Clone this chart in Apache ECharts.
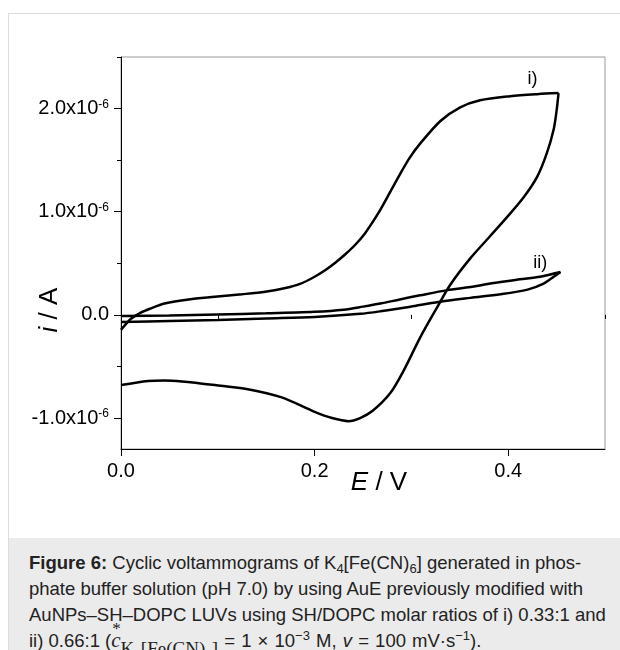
<!DOCTYPE html>
<html>
<head>
<meta charset="utf-8">
<script src="https://cdn.jsdelivr.net/npm/echarts@6/dist/echarts.min.js"></script>
<style>
  html, body { margin:0; padding:0; background:#fff; }
  #wrap { position:relative; width:620px; height:650px; overflow:hidden; }
  #frame { position:absolute; left:8px; top:13px; width:700px; height:700px; border:1px solid #dcdcdc; box-sizing:border-box; }
  #chart { position:absolute; left:0; top:0; width:620px; height:650px; }
  #cap { position:absolute; left:9px; top:538px; width:620px; height:112px; background:#ebebeb;
         font-family:'Liberation Sans', Arial, sans-serif; font-size:18.5px; line-height:26px; color:#222;
         padding:12px 0 0 20px; box-sizing:border-box; white-space:nowrap; }
  #cap sub, #cap sup { font-size:13px; line-height:0; vertical-align:baseline; position:relative; }
  #cap sub { top:4px; }
  #cap sup { top:-7px; }
  .serif { font-family:'Liberation Serif', 'Times New Roman', serif; }
</style>
</head>
<body>
<div id="wrap">
  <div id="frame"></div>
  <div id="chart"></div>
  <div id="cap"><b>Figure 6:</b> Cyclic voltammograms of K<sub>4</sub>[Fe(CN)<sub>6</sub>] generated in phos-<br>phate buffer solution (pH 7.0) by using AuE previously modified with<br>AuNPs–SH–DOPC LUVs using SH/DOPC molar ratios of i) 0.33:1 and<br>ii) 0.66:1 (<span class="serif" style="position:relative;line-height:0;"><i style="font-size:21px;line-height:0;">c</i><span style="position:absolute;left:1px;top:-12px;font-size:17px;line-height:normal;">*</span><span style="position:relative;top:8px;font-size:19px;line-height:0;">K<sub>4</sub>[Fe(CN)<sub>6</sub>]</span></span><span style="word-spacing:1px;"> = 1 × 10<sup>−3</sup> M, <i>v</i> = 100 mV·s<sup>−1</sup>).</span></div>
</div>
<script>
// ---- data (E in V, current in units of 1e-6 A) ----
const curveI_fwd_E = [0.000, 0.005, 0.010, 0.020, 0.030, 0.045, 0.070, 0.097, 0.125, 0.149, 0.170, 0.185, 0.200, 0.212, 0.222, 0.232, 0.242, 0.252, 0.260, 0.268, 0.278, 0.288, 0.298, 0.309, 0.330, 0.350, 0.371, 0.402, 0.430, 0.452];
const curveI_fwd_I = [-0.145, -0.09, -0.04, 0.02, 0.06, 0.11, 0.15, 0.175, 0.20, 0.225, 0.26, 0.30, 0.37, 0.44, 0.51, 0.59, 0.68, 0.79, 0.90, 1.02, 1.19, 1.36, 1.52, 1.66, 1.88, 2.01, 2.08, 2.12, 2.14, 2.15];
const curveI_rev_E = [0.452, 0.450, 0.447, 0.440, 0.430, 0.416, 0.399, 0.381, 0.361, 0.340, 0.327, 0.309, 0.292, 0.278, 0.260, 0.247, 0.235, 0.218, 0.200, 0.166, 0.131, 0.097, 0.063, 0.045, 0.028, 0.000];
const curveI_rev_I = [2.15, 1.98, 1.80, 1.57, 1.34, 1.14, 0.95, 0.76, 0.55, 0.29, 0.08, -0.22, -0.54, -0.76, -0.93, -1.00, -1.03, -1.00, -0.94, -0.80, -0.72, -0.68, -0.645, -0.635, -0.64, -0.68];
const curveII_fwd_E = [0.000, 0.050, 0.100, 0.150, 0.200, 0.230, 0.250, 0.268, 0.288, 0.309, 0.337, 0.361, 0.385, 0.412, 0.433, 0.454];
const curveII_fwd_I = [-0.01, -0.005, 0.005, 0.015, 0.03, 0.05, 0.08, 0.11, 0.15, 0.19, 0.24, 0.27, 0.31, 0.345, 0.37, 0.415];
const curveII_rev_E = [0.454, 0.447, 0.436, 0.420, 0.392, 0.361, 0.328, 0.299, 0.268, 0.247, 0.200, 0.150, 0.100, 0.050, 0.000];
const curveII_rev_I = [0.415, 0.37, 0.30, 0.245, 0.20, 0.165, 0.125, 0.08, 0.035, 0.01, -0.02, -0.035, -0.05, -0.06, -0.07];

const curveLabels = ['i)', 'ii)'];
const curveLabelE = [0.425, 0.433];
const curveLabelI = [2.29, 0.50];

const xMajorTicks = [0, 0.2, 0.4];
const xMinorTicks = [0.1, 0.3, 0.5];
const yMajorTicks = [-1, 0, 1, 2];
const yMinorTicks = [-0.5, 0.5, 1.5, 2.5];
const xRange = [0, 0.5];
const yRange = [-1.3, 2.5];

function pairs(E, I) { return E.map((e, k) => [e, I[k]]); }

const FONT = 'Liberation Sans';
const chart = echarts.init(document.getElementById('chart'), null, { renderer: 'canvas' });

function lineSeries(E, I, labelIdx) {
  const s = {
    type: 'line', xAxisIndex: 0, yAxisIndex: 0,
    data: pairs(E, I), showSymbol: false, smooth: 0.3,
    lineStyle: { color: '#000', width: 2.5 }, z: 5, silent: true
  };
  if (labelIdx !== undefined) {
    s.markPoint = {
      symbol: 'circle', symbolSize: 1, itemStyle: { color: 'rgba(0,0,0,0)' },
      label: { show: true, position: 'inside', formatter: p => p.name, color: '#000', fontSize: 18, fontFamily: FONT },
      data: [{ name: curveLabels[labelIdx], coord: [curveLabelE[labelIdx], curveLabelI[labelIdx]] }]
    };
  }
  return s;
}

const yFmt = v => {
  if (Math.abs(v) < 1e-9) return '{m|0.0}';
  return '{m|' + v.toFixed(1) + 'x10}{s|-6}';
};

chart.setOption({
  animation: false,
  grid: { left: 121, top: 57, width: 484, height: 392, show: true, borderColor: '#9a9a9a', borderWidth: 1,
          backgroundColor: 'transparent', containLabel: false, outerBoundsMode: 'none' },
  xAxis: [
    { type: 'value', min: xRange[0], max: xRange[1], position: 'bottom',
      axisLine: { show: true, onZero: false, lineStyle: { color: '#000', width: 1 } },
      axisTick: { show: true, customValues: xMajorTicks, length: 7, lineStyle: { color: '#000' } },
      axisLabel: { customValues: xMajorTicks, formatter: v => v.toFixed(1), fontSize: 20, color: '#000', margin: 12, fontFamily: FONT },
      splitLine: { show: false },
      name: '{it|E} / V', nameLocation: 'middle', nameGap: 21, nameMoveOverlap: false,
      nameTextStyle: { fontSize: 26, color: '#000', fontFamily: FONT, padding: [0, 0, 0, 32],
        rich: { it: { fontSize: 26, fontStyle: 'italic', color: '#000', fontFamily: FONT } } } },
    { type: 'value', min: xRange[0], max: xRange[1], position: 'bottom',
      axisLine: { show: false },
      axisTick: { show: true, customValues: xMinorTicks, length: 4, lineStyle: { color: '#000' } },
      axisLabel: { show: false }, splitLine: { show: false } }
  ],
  yAxis: [
    { type: 'value', min: yRange[0], max: yRange[1], position: 'left',
      axisLine: { show: true, onZero: false, lineStyle: { color: '#000', width: 1 } },
      axisTick: { show: true, customValues: yMajorTicks, length: 7, lineStyle: { color: '#000' } },
      axisLabel: { customValues: yMajorTicks, formatter: yFmt, margin: 12, color: '#000',
        rich: { m: { fontSize: 20, fontFamily: FONT, color: '#000', lineHeight: 20 },
                s: { fontSize: 12, fontFamily: FONT, color: '#000', lineHeight: 12, verticalAlign: 'top' } } },
      splitLine: { show: false },
      name: '{it|i} / A', nameLocation: 'middle', nameGap: 58, nameMoveOverlap: false,
      nameTextStyle: { fontSize: 26, color: '#000', fontFamily: FONT, padding: [0, 114, 0, 0],
        rich: { it: { fontSize: 26, fontStyle: 'italic', color: '#000', fontFamily: FONT } } } },
    { type: 'value', min: yRange[0], max: yRange[1], position: 'left',
      axisLine: { show: false },
      axisTick: { show: true, customValues: yMinorTicks, length: 4, lineStyle: { color: '#000' } },
      axisLabel: { show: false }, splitLine: { show: false } }
  ],
  series: [
    lineSeries(curveI_fwd_E, curveI_fwd_I, 0),
    lineSeries(curveI_rev_E, curveI_rev_I),
    lineSeries(curveII_fwd_E, curveII_fwd_I, 1),
    lineSeries(curveII_rev_E, curveII_rev_I)
  ]
});
</script>
</body>
</html>
